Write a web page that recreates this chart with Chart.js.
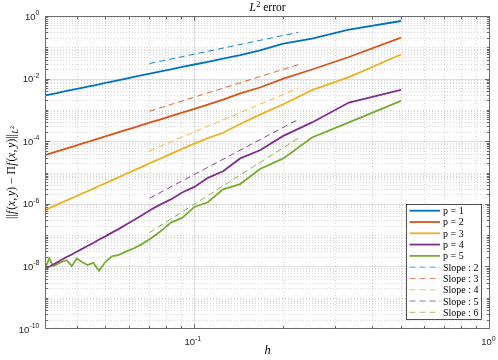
<!DOCTYPE html>
<html><head><meta charset="utf-8">
<script src="https://cdn.jsdelivr.net/npm/chart.js@4/dist/chart.umd.min.js"></script>
<style>html,body{margin:0;padding:0;background:#fff;}#wrap{width:498px;height:360px;position:relative;}</style>
</head><body><div id="wrap"><canvas id="c" width="498" height="360"></canvas></div>
<script>
// mesh size h = 1/n, n = 2..32
const H = [0.5, 0.3333, 0.25, 0.2, 0.1667, 0.1429, 0.125, 0.1111, 0.1, 0.0909, 0.0833, 0.0769, 0.0714, 0.0667, 0.0625, 0.0588, 0.0556, 0.0526, 0.05, 0.0476, 0.0455, 0.0435, 0.0417, 0.04, 0.0385, 0.037, 0.0357, 0.0345, 0.0333, 0.0323, 0.03125];
const P1 = [0.692, 0.367, 0.1905, 0.1318, 0.0794, 0.0562, 0.0437, 0.0342, 0.0282, 0.0236, 0.0198, 0.0169, 0.0147, 0.0128, 0.0113, 0.01005, 0.00891, 0.0080, 0.00724, 0.00659, 0.00601, 0.00550, 0.00507, 0.00468, 0.00433, 0.00403, 0.00375, 0.00350, 0.00327, 0.00307, 0.00288];
const P2 = [0.204, 0.0490, 0.0195, 0.0100, 0.00519, 0.00339, 0.00214, 0.00148, 0.00108, 8.20e-4, 6.35e-4, 5.01e-4, 4.04e-4, 3.30e-4, 2.73e-4, 2.29e-4, 1.94e-4, 1.64e-4, 1.42e-4, 1.23e-4, 1.08e-4, 9.42e-5, 8.32e-5, 7.36e-5, 6.58e-5, 5.90e-5, 5.30e-5, 4.79e-5, 4.33e-5, 3.94e-5, 3.58e-5];
const P3 = [0.0589, 0.0112, 4.27e-3, 1.51e-3, 7.08e-4, 3.55e-4, 1.86e-4, 1.26e-4, 8.32e-5, 5.68e-5, 3.93e-5, 2.80e-5, 2.06e-5, 1.54e-5, 1.17e-5, 9.12e-6, 7.10e-6, 5.62e-6, 4.55e-6, 3.71e-6, 3.05e-6, 2.52e-6, 2.12e-6, 1.78e-6, 1.51e-6, 1.29e-6, 1.11e-6, 9.57e-7, 8.28e-7, 7.23e-7, 6.31e-7];
const P4 = [4.37e-3, 1.72e-3, 3.98e-4, 1.48e-4, 5.13e-5, 2.82e-5, 1.10e-5, 6.76e-6, 3.47e-6, 2.29e-6, 1.38e-6, 9.55e-7, 6.61e-7, 4.37e-7, 3.02e-7, 2.19e-7, 1.58e-7, 1.20e-7, 9.12e-8, 7.24e-8, 5.62e-8, 4.47e-8, 3.63e-8, 2.95e-8, 2.40e-8, 2.00e-8, 1.66e-8, 1.38e-8, 1.15e-8, 9.77e-9, 8.32e-9];
const P5 = [1.95e-3, 3.98e-4, 1.32e-4, 2.82e-5, 1.29e-5, 4.27e-6, 2.88e-6, 1.12e-6, 7.94e-7, 3.55e-7, 2.51e-7, 1.32e-7, 7.94e-8, 5.25e-8, 3.80e-8, 3.02e-8, 2.34e-8, 2.09e-8, 1.38e-8, 7.24e-9, 1.29e-8, 1.10e-8, 1.38e-8, 1.78e-8, 1.02e-8, 1.58e-8, 1.41e-8, 1.20e-8, 1.02e-8, 1.82e-8, 8.13e-9];
// reference slope lines (two end points each)
const SLOPE_H = [0.0705, 0.225];
const SLOPE2 = [0.0303, 0.302];
const SLOPE3 = [9.08e-4, 0.0281];
const SLOPE4 = [4.9e-5, 5.0e-3];
const SLOPE5 = [1.51e-6, 5.0e-4];
const SLOPE6 = [1.2e-7, 1.26e-4];
const SERIES_LABELS = ['p = 1', 'p = 2', 'p = 3', 'p = 4', 'p = 5'];
const SLOPE_LABELS = ['Slope : 2', 'Slope : 3', 'Slope : 4', 'Slope : 5', 'Slope : 6'];
const X_TICKS = [0.1, 1];
const X_TICK_EXP = ['-1', '0'];
const Y_TICKS = [1, 1e-2, 1e-4, 1e-6, 1e-8, 1e-10];
const Y_TICK_EXP = ['0', '-2', '-4', '-6', '-8', '-10'];
const COLORS = ['#0072BD', '#D95319', '#EDB120', '#7E2F8E', '#77AC30'];

const X_MIN = 0.03125, X_MAX = 1, Y_MIN = 1e-10, Y_MAX = 1;

function pts(xs, ys) { return xs.map((v, i) => ({x: v, y: ys[i]})); }

const series = [P1, P2, P3, P4, P5];
const slopes = [SLOPE2, SLOPE3, SLOPE4, SLOPE5, SLOPE6];
const datasets = [];
series.forEach((s, i) => datasets.push({
  label: SERIES_LABELS[i], data: pts(H, s), borderColor: COLORS[i], borderWidth: 1.8,
  pointRadius: 0, tension: 0, fill: false
}));
slopes.forEach((s, i) => datasets.push({
  label: SLOPE_LABELS[i], data: pts(SLOPE_H, s), borderColor: COLORS[i], borderWidth: 0.9,
  borderDash: [6, 4], pointRadius: 0, tension: 0, fill: false
}));

// grid positions (structural)
const xMinor = [], yMinor = [], yMajor = [];
for (let e = -2; e <= 0; e++) for (let m = 1; m <= 9; m++) {
  const v = m * Math.pow(10, e);
  if (v > X_MIN && v < X_MAX && !(m === 1 && e === -1)) xMinor.push(v);
}
for (let e = -10; e <= -1; e++) for (let m = 1; m <= 9; m++) {
  const v = m * Math.pow(10, e);
  if (m === 1 && e % 2 === 0) { if (e > -10) yMajor.push(v); }
  else yMinor.push(v);
}

function drawRich(ctx, parts, x, y, align) {
  let w = 0;
  parts.forEach(p => { ctx.font = p[1]; w += ctx.measureText(p[0]).width + (p[3] || 0); });
  let cx = align === 'center' ? x - w / 2 : (align === 'right' ? x - w : x);
  parts.forEach(p => { ctx.font = p[1]; ctx.fillText(p[0], cx, y + p[2]); cx += ctx.measureText(p[0]).width + (p[3] || 0); });
  return w;
}

const SANS = '"Liberation Sans", Arial, sans-serif';
const SERIF = '"Liberation Serif", "Times New Roman", serif';

const decor = {
  id: 'decor',
  beforeDatasetsDraw(chart) {
    const {ctx, chartArea: a, scales: {x, y}} = chart;
    ctx.save();
    ctx.lineWidth = 1;
    ctx.strokeStyle = 'rgba(38,38,38,0.18)';
    ctx.setLineDash([1, 2]);
    ctx.beginPath();
    xMinor.forEach(v => { const p = Math.round(x.getPixelForValue(v)) + 0.5; ctx.moveTo(p, a.top); ctx.lineTo(p, a.bottom); });
    yMinor.forEach(v => { const p = Math.round(y.getPixelForValue(v)) + 0.5; ctx.moveTo(a.left, p); ctx.lineTo(a.right, p); });
    ctx.stroke();
    ctx.setLineDash([]);
    ctx.strokeStyle = 'rgba(38,38,38,0.15)';
    ctx.beginPath();
    [0.1].forEach(v => { const p = Math.round(x.getPixelForValue(v)) + 0.5; ctx.moveTo(p, a.top); ctx.lineTo(p, a.bottom); });
    yMajor.forEach(v => { const p = Math.round(y.getPixelForValue(v)) + 0.5; ctx.moveTo(a.left, p); ctx.lineTo(a.right, p); });
    ctx.stroke();
    ctx.restore();
  },
  afterDatasetsDraw(chart) {
    const {ctx, chartArea: a, scales: {x, y}} = chart;
    ctx.save();
    const L = Math.round(a.left) + 0.5, R = Math.round(a.right) - 0.5, T = Math.round(a.top) + 0.5, B = Math.round(a.bottom) - 0.5;
    ctx.strokeStyle = '#6b6b6b';
    ctx.lineWidth = 1;
    ctx.strokeRect(L, T, R - L, B - T);
    ctx.beginPath();
    const tickX = (v, len) => { const p = Math.round(x.getPixelForValue(v)) + 0.5; ctx.moveTo(p, B); ctx.lineTo(p, B - len); ctx.moveTo(p, T); ctx.lineTo(p, T + len); };
    const tickY = (v, len) => { const p = Math.round(y.getPixelForValue(v)) + 0.5; ctx.moveTo(L, p); ctx.lineTo(L + len, p); ctx.moveTo(R, p); ctx.lineTo(R - len, p); };
    xMinor.forEach(v => tickX(v, 2.5));
    tickX(0.1, 4.5);
    yMinor.forEach(v => tickY(v, 2.5));
    yMajor.forEach(v => tickY(v, 4.5));
    ctx.stroke();
    ctx.fillStyle = '#262626';
    ctx.textBaseline = 'alphabetic';
    Y_TICKS.forEach((v, i) => {
      const p = y.getPixelForValue(v);
      drawRich(ctx, [['10', '9.5px ' + SANS, 3.5], [Y_TICK_EXP[i], '7px ' + SANS, -1]], 39.5, p, 'right');
    });
    X_TICKS.forEach((v, i) => {
      const p = x.getPixelForValue(v);
      drawRich(ctx, [['10', '9.5px ' + SANS, 0], [X_TICK_EXP[i], '7px ' + SANS, -4.5]], p - 1.5, 345, 'center');
    });
    ctx.fillStyle = '#000';
    drawRich(ctx, [['L', 'italic 11.5px ' + SERIF, 0, 0.5], ['2', '8px ' + SERIF, -4.5, 0], [' error', '11.5px ' + SERIF, 0]], (a.left + a.right) / 2, 11, 'center');
    drawRich(ctx, [['h', 'italic 12.5px ' + SERIF, 0]], (a.left + a.right) / 2, 354, 'center');
    ctx.save();
    ctx.translate(15, (a.top + a.bottom) / 2);
    ctx.rotate(-Math.PI / 2);
    const up = '11.5px ' + SERIF, it = 'italic 11.5px ' + SERIF;
    drawRich(ctx, [
      ['||', up, 0, 0.5], ['f', it, 0, 1], ['(', up, 0], ['x', it, 0], [',', up, 0, 2], ['y', it, 0], [')', up, 0, 3],
      ['\u2212', up, 0, 3], ['\u03A0', up, 0, 0.5], ['f', it, 0, 1], ['(', up, 0], ['x', it, 0], [',', up, 0, 2], ['y', it, 0], [')', up, 0],
      ['||', up, 0, 0.5], ['L', 'italic 8.5px ' + SERIF, 3], ['2', '6px ' + SERIF, -1.5]
    ], 0, 0, 'center');
    ctx.restore();
    const lx0 = 406.5, ly0 = 204.5, lx1 = 481.5, ly1 = 319.5;
    ctx.fillStyle = '#fff';
    ctx.fillRect(lx0, ly0, lx1 - lx0, ly1 - ly0);
    ctx.strokeStyle = '#262626';
    ctx.lineWidth = 0.8;
    ctx.strokeRect(lx0, ly0, lx1 - lx0, ly1 - ly0);
    chart.data.datasets.forEach((ds, i) => {
      const ry = 210.7 + i * 11.29;
      ctx.save();
      ctx.strokeStyle = ds.borderColor;
      ctx.lineWidth = ds.borderDash ? 1 : ds.borderWidth;
      ctx.globalAlpha = ds.borderDash ? 0.7 : 1;
      ctx.setLineDash(ds.borderDash || []);
      ctx.beginPath(); ctx.moveTo(409.5, ry); ctx.lineTo(440, ry); ctx.stroke();
      ctx.restore();
      ctx.fillStyle = '#000';
      ctx.font = '10px ' + SERIF;
      ctx.textAlign = 'left';
      ctx.fillText(ds.label, 443, ry + 3.5);
    });
    ctx.restore();
  }
};

new Chart(document.getElementById('c'), {
  type: 'line',
  data: {datasets},
  options: {
    responsive: false, animation: false, events: [],
    layout: {padding: {left: 45, right: 8, top: 16, bottom: 31}},
    plugins: {legend: {display: false}, tooltip: {enabled: false}, title: {display: false}},
    scales: {
      x: {type: 'logarithmic', min: X_MIN, max: X_MAX, grid: {display: false, drawTicks: false}, border: {display: false}, ticks: {display: false}, title: {display: false}},
      y: {type: 'logarithmic', min: Y_MIN, max: Y_MAX, grid: {display: false, drawTicks: false}, border: {display: false}, ticks: {display: false}, title: {display: false}}
    }
  },
  plugins: [decor]
});
</script></body></html>
